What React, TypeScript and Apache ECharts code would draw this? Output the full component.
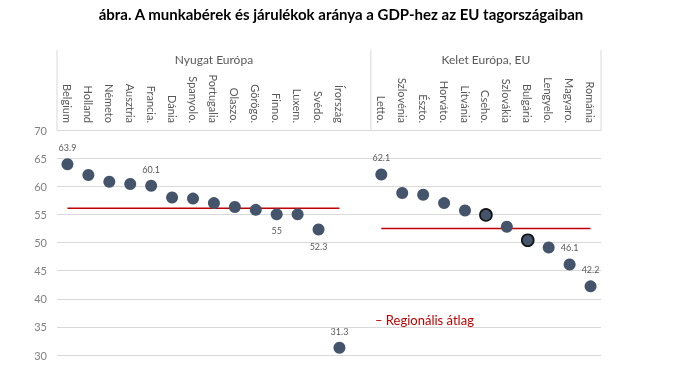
import React, { useEffect, useRef } from "react";
import * as echarts from "echarts";

const categories: string[] = [
  "Belgium", "Holland", "Németo", "Ausztria", "Francia.", "Dánia", "Spanyolo.", "Portugalia",
  "Olaszo.", "Görögo.", "Finno.", "Luxem.", "Svédo.", "Írország",
  "",
  "Letto.", "Szlovénia", "Észto.", "Horváto.", "Litvánia", "Cseho.", "Szlovákia", "Bulgária",
  "Lengyelo.", "Magyaro.", "Románia",
];

const values: (number | null)[] = [
  63.9, 62.0, 60.8, 60.4, 60.1, 58.0, 57.8, 57.0, 56.3, 55.8, 55.0, 55.0, 52.3, 31.3,
  null,
  62.1, 58.8, 58.5, 57.0, 55.7, 54.9, 52.8, 50.4, 49.1, 46.1, 42.2,
];

const westAvg = 56.1;
const eastAvg = 52.5;

const labelAbove: string[] = ["Belgium", "Francia.", "Írország", "Letto.", "Magyaro.", "Románia"];
const labelBelow: string[] = ["Finno.", "Svédo."];
const highlighted: string[] = ["Cseho.", "Bulgária"];

const groupNames: string[] = ["Nyugat Európa", "Kelet Európa, EU"];
const titleText = "ábra. A munkabérek és járulékok aránya a GDP-hez az EU tagországaiban";
const legendText = "– Regionális átlag";

const FONT = "Lato, 'Open Sans', sans-serif";

export default function App() {
  const ref = useRef<HTMLDivElement>(null);
  useEffect(() => {
    if (!ref.current) return;
    const chart = echarts.init(ref.current, undefined, { renderer: "svg" });

    const pointData = values.map((v, i) => {
      const name = categories[i];
      if (v === null) return null;
      const item: any = { value: v };
      if (labelAbove.includes(name)) {
        item.label = { show: true, position: "top", distance: 6 };
      } else if (labelBelow.includes(name)) {
        item.label = { show: true, position: "bottom", distance: 6 };
      }
      if (highlighted.includes(name)) {
        item.itemStyle = { borderColor: "#111", borderWidth: 1.6 };
      }
      return item;
    });

    const westLine = categories.map((_, i) => (i <= 13 ? westAvg : null));
    const eastLine = categories.map((_, i) => (i >= 15 ? eastAvg : null));

    const left = 57;
    const right = 601;
    const top = 130;
    const bottom = 355;
    const slot = (right - left) / categories.length;

    chart.setOption({
      animation: false,
      textStyle: { fontFamily: FONT },
      grid: { left, right: 690 - right, top, bottom: 372 - bottom, containLabel: false },
      xAxis: {
        type: "category",
        data: categories,
        position: "top",
        boundaryGap: true,
        axisLine: { show: true, lineStyle: { color: "#D9D9D9" } },
        axisTick: { show: false },
        axisLabel: {
          rotate: 90,
          interval: 0,
          margin: 7,
          color: "#595959",
          fontSize: 11,
          fontFamily: FONT,
        },
        splitLine: { show: false },
      },
      yAxis: {
        type: "value",
        min: 30,
        max: 70,
        interval: 5,
        axisLine: { show: false },
        axisTick: { show: false },
        axisLabel: { color: "#808080", fontSize: 11, margin: 10, fontFamily: FONT },
        splitLine: { lineStyle: { color: "#D9D9D9", width: 1 } },
      },
      series: [
        {
          type: "line",
          data: westLine,
          symbol: "none",
          lineStyle: { color: "#C00000", width: 1.6 },
          z: 2,
        },
        {
          type: "line",
          data: eastLine,
          symbol: "none",
          lineStyle: { color: "#C00000", width: 1.6 },
          z: 2,
        },
        {
          type: "scatter",
          data: pointData,
          symbolSize: 12,
          itemStyle: { color: "#44546A", opacity: 1 },
          label: { color: "#595959", fontSize: 9, fontFamily: FONT },
          z: 3,
        },
      ],
      graphic: [
        {
          type: "text",
          x: 341,
          y: 14,
          style: {
            text: titleText,
            font: `bold 15px ${FONT}`,
            fill: "#000",
            textAlign: "center",
            textVerticalAlign: "middle",
          },
        },
        { type: "line", shape: { x1: left, y1: 50, x2: left, y2: top }, style: { stroke: "#D9D9D9", lineWidth: 1 } },
        { type: "line", shape: { x1: left + slot * 15, y1: 50, x2: left + slot * 15, y2: top }, style: { stroke: "#D9D9D9", lineWidth: 1 } },
        { type: "line", shape: { x1: right, y1: 50, x2: right, y2: top }, style: { stroke: "#D9D9D9", lineWidth: 1 } },
        {
          type: "text",
          x: left + slot * 7.5,
          y: 59,
          style: { text: groupNames[0], fill: "#595959", font: `12px ${FONT}`, textAlign: "center", textVerticalAlign: "middle" },
        },
        {
          type: "text",
          x: left + slot * 20.5,
          y: 59,
          style: { text: groupNames[1], fill: "#595959", font: `12px ${FONT}`, textAlign: "center", textVerticalAlign: "middle" },
        },
        {
          type: "text",
          x: 375,
          y: 320,
          style: { text: legendText, fill: "#C00000", font: `13px ${FONT}`, textAlign: "left", textVerticalAlign: "middle" },
        },
      ],
    });
    return () => chart.dispose();
  }, []);
  return <div ref={ref} style={{ position: "fixed", left: 0, top: 0, width: 690, height: 372 }} />;
}
